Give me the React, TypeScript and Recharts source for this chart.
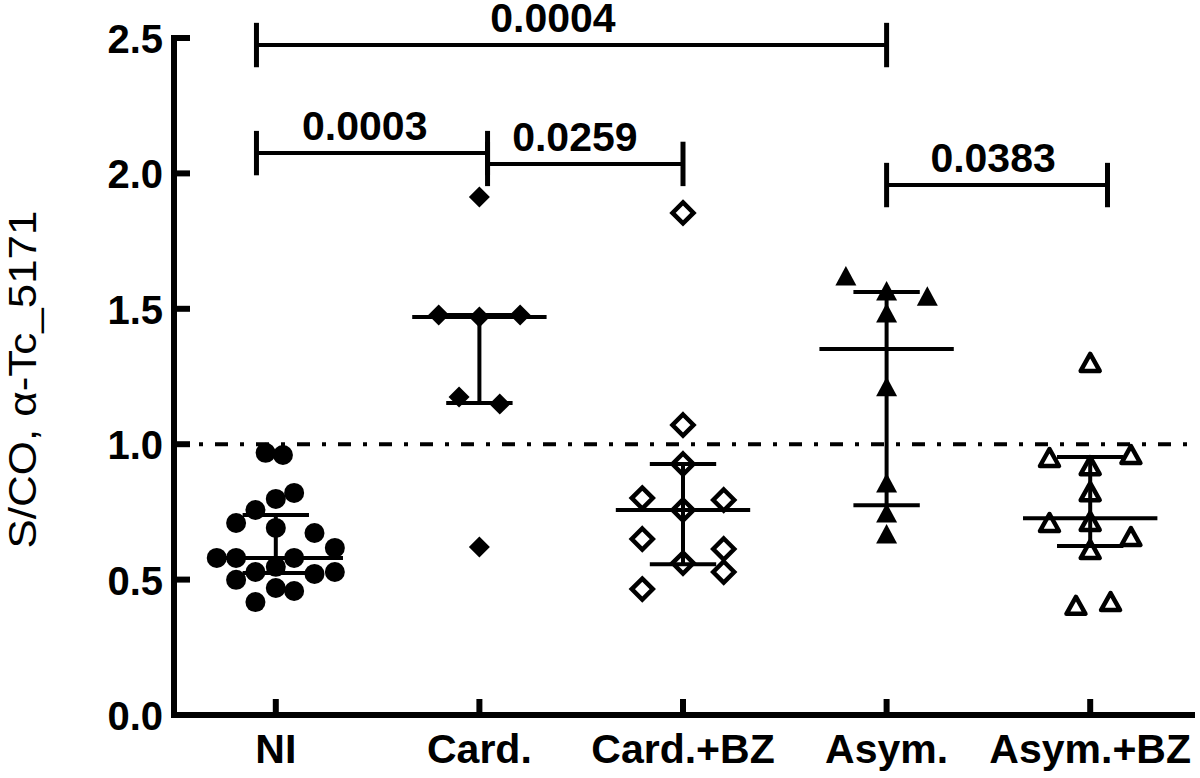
import React from 'react';
import { ScatterChart, Scatter, XAxis, YAxis, ReferenceLine, ReferenceDot } from 'recharts';

const categories = ['NI', 'Card.', 'Card.+BZ', 'Asym.', 'Asym.+BZ'];
const categoryTicks = [1, 2, 3, 4, 5];
const yTicks = [0, 0.5, 1.0, 1.5, 2.0, 2.5];
const yTitle = 'S/CO, α-Tc_5171';

// [horizontal scatter offset within the group, S/CO value]
const niPoints = [
  [-0.05, 0.968], [0.035, 0.96], [0.09, 0.82], [0, 0.798], [-0.1, 0.757],
  [-0.195, 0.709], [0, 0.691], [0.19, 0.672], [0.29, 0.617], [-0.29, 0.58],
  [-0.195, 0.58], [0.09, 0.58], [-0.1, 0.528], [0, 0.547], [-0.195, 0.499],
  [0.29, 0.528], [0.19, 0.521], [0, 0.469], [0.09, 0.458], [-0.1, 0.417],
];
const cardPoints = [
  [0, 1.913], [-0.2, 1.477], [0, 1.47], [0.2, 1.477], [-0.1, 1.174], [0.1, 1.148], [0, 0.62],
];
const cardBzPoints = [
  [0, 1.854], [0, 1.071], [0, 0.927], [-0.2, 0.801], [0.2, 0.794], [0, 0.757],
  [-0.2, 0.65], [0.2, 0.613], [0, 0.561], [0.2, 0.528], [-0.2, 0.465],
];
const asymPoints = [
  [-0.2, 1.617], [0, 1.562], [0.2, 1.543], [0, 1.481], [0, 1.208], [0, 0.853], [0, 0.742], [0, 0.665],
];
const asymBzPoints = [
  [0, 1.3], [-0.2, 0.949], [0.2, 0.96], [0, 0.919], [0, 0.823], [-0.2, 0.709],
  [0, 0.713], [0.2, 0.657], [0, 0.609], [-0.07, 0.403], [0.1, 0.417],
];

const medians = [0.58, 1.47, 0.757, 1.352, 0.727];
const lowerQuartiles = [0.524, 1.152, 0.557, 0.775, 0.624];
const upperQuartiles = [0.739, 1.477, 0.927, 1.562, 0.953];
const cutoff = 1.0;

const comparisonLabels = ['0.0004', '0.0003', '0.0259', '0.0383'];
const comparisonStart = [0.905, 0.905, 2.04, 4.0];
const comparisonEnd = [4.0, 2.04, 3.0, 5.085];
const comparisonLevel = [2.474, 2.075, 2.035, 1.957];
const comparisonLabelX = [2.361, 1.437, 2.469, 4.523];

const FONT = '"Liberation Sans", Arial, Helvetica, sans-serif';
const MEDIAN_HALF = 0.33;
const QUARTILE_HALF = 0.163;
const CAP_HALF = 0.082;

const toData = (group: number, pts: number[][]) =>
  pts.map(([dx, v]) => ({ x: group + dx, y: v }));

const Circle = (p: any) => <circle cx={p.cx} cy={p.cy} r={10} fill="#000" />;
const FilledDiamond = (p: any) => (
  <path d={`M${p.cx},${p.cy - 10.5}L${p.cx + 10.5},${p.cy}L${p.cx},${p.cy + 10.5}L${p.cx - 10.5},${p.cy}Z`} fill="#000" />
);
const OpenDiamond = (p: any) => (
  <path d={`M${p.cx},${p.cy - 10.5}L${p.cx + 10.5},${p.cy}L${p.cx},${p.cy + 10.5}L${p.cx - 10.5},${p.cy}Z`} fill="none" stroke="#000" strokeWidth={4.5} />
);
const FilledTriangle = (p: any) => (
  <path d={`M${p.cx},${p.cy - 11}L${p.cx + 10.5},${p.cy + 8.5}L${p.cx - 10.5},${p.cy + 8.5}Z`} fill="#000" />
);
const OpenTriangle = (p: any) => (
  <path d={`M${p.cx},${p.cy - 9}L${p.cx + 9.5},${p.cy + 8}L${p.cx - 9.5},${p.cy + 8}Z`} fill="none" stroke="#000" strokeWidth={4.5} strokeLinejoin="round" />
);

const XTick = (p: any) => (
  <g>
    <line x1={p.x} y1={p.y} x2={p.x} y2={p.y - 16} stroke="#000" strokeWidth={6} />
    <text x={p.x} y={p.y + 48} textAnchor="middle" fontFamily={FONT} fontWeight="bold" fontSize={41} fill="#000">
      {categories[p.payload.value - 1]}
    </text>
  </g>
);

const YTick = (p: any) => (
  <g>
    <line x1={p.x} y1={p.y} x2={p.x + 16} y2={p.y} stroke="#000" strokeWidth={6} />
    <text x={p.x - 11} y={p.y + 15} textAnchor="end" fontFamily={FONT} fontWeight="bold" fontSize={40} fill="#000">
      {Number(p.payload.value).toFixed(1)}
    </text>
  </g>
);

const YTitle = (p: any) => {
  const vb = p.viewBox || { x: 0, y: 38, width: 174, height: 677 };
  const cx = vb.x + 36;
  const cy = vb.y + vb.height / 2 + 3;
  return (
    <text
      x={cx}
      y={cy}
      textAnchor="middle"
      transform={`rotate(-90, ${cx}, ${cy})`}
      fontFamily={FONT}
      fontSize={39}
      textLength={338}
      lengthAdjust="spacingAndGlyphs"
      fill="#000"
    >
      {yTitle}
    </text>
  );
};

const ComparisonText = (label: string) => (p: any) => (
  <text x={p.cx} y={p.cy - 13} textAnchor="middle" fontFamily={FONT} fontWeight="bold" fontSize={41} fill="#000">
    {label}
  </text>
);

const seg = (x1: number, y1: number, x2: number, y2: number, w: number, key: string) => (
  <ReferenceLine
    key={key}
    segment={[{ x: x1, y: y1 }, { x: x2, y: y2 }]}
    stroke="#000"
    strokeWidth={w}
    ifOverflow="visible"
  />
);

export default function App() {
  const groups = [niPoints, cardPoints, cardBzPoints, asymPoints, asymBzPoints];
  const shapes = [Circle, FilledDiamond, OpenDiamond, FilledTriangle, OpenTriangle];
  return (
    <div style={{ position: 'absolute', left: 0, top: 0, width: 1200, height: 778, background: '#fff' }}>
      <ScatterChart width={1200} height={778} margin={{ top: 38, right: 8, bottom: 0, left: 0 }}>
        <XAxis
          type="number"
          dataKey="x"
          domain={[0.5, 5.5]}
          ticks={categoryTicks}
          interval={0}
          allowDataOverflow
          height={63}
          tickSize={0}
          tickMargin={0}
          tickLine={false}
          axisLine={{ stroke: '#000', strokeWidth: 6, strokeLinecap: 'square' }}
          tick={XTick}
        />
        <YAxis
          type="number"
          dataKey="y"
          domain={[0, 2.5]}
          ticks={yTicks}
          interval={0}
          allowDataOverflow
          width={174}
          tickSize={0}
          tickMargin={0}
          tickLine={false}
          axisLine={{ stroke: '#000', strokeWidth: 6, strokeLinecap: 'square' }}
          tick={YTick}
          label={{ content: YTitle }}
        />
        <ReferenceLine y={cutoff} stroke="#000" strokeWidth={4} strokeDasharray="13 12 4 12" ifOverflow="visible" />
        {categories.map((c, i) => {
          const gx = i + 1;
          return [
            seg(gx - MEDIAN_HALF, medians[i], gx + MEDIAN_HALF, medians[i], 4, `med-${i}`),
            seg(gx - QUARTILE_HALF, lowerQuartiles[i], gx + QUARTILE_HALF, lowerQuartiles[i], 4, `lq-${i}`),
            seg(gx - QUARTILE_HALF, upperQuartiles[i], gx + QUARTILE_HALF, upperQuartiles[i], 4, `uq-${i}`),
            seg(gx, lowerQuartiles[i], gx, upperQuartiles[i], 4, `v-${i}`),
          ];
        })}
        {comparisonLabels.map((lab, i) => [
          seg(comparisonStart[i], comparisonLevel[i], comparisonEnd[i], comparisonLevel[i], 4, `bh-${i}`),
          seg(comparisonStart[i], comparisonLevel[i] - CAP_HALF, comparisonStart[i], comparisonLevel[i] + CAP_HALF, 5, `bl-${i}`),
          seg(comparisonEnd[i], comparisonLevel[i] - CAP_HALF, comparisonEnd[i], comparisonLevel[i] + CAP_HALF, 5, `br-${i}`),
          <ReferenceDot
            key={`bt-${i}`}
            x={comparisonLabelX[i]}
            y={comparisonLevel[i]}
            ifOverflow="visible"
            shape={ComparisonText(lab)}
          />,
        ])}
        {groups.map((pts, i) => (
          <Scatter
            key={categories[i]}
            name={categories[i]}
            data={toData(i + 1, pts)}
            shape={shapes[i]}
            isAnimationActive={false}
          />
        ))}
      </ScatterChart>
    </div>
  );
}
